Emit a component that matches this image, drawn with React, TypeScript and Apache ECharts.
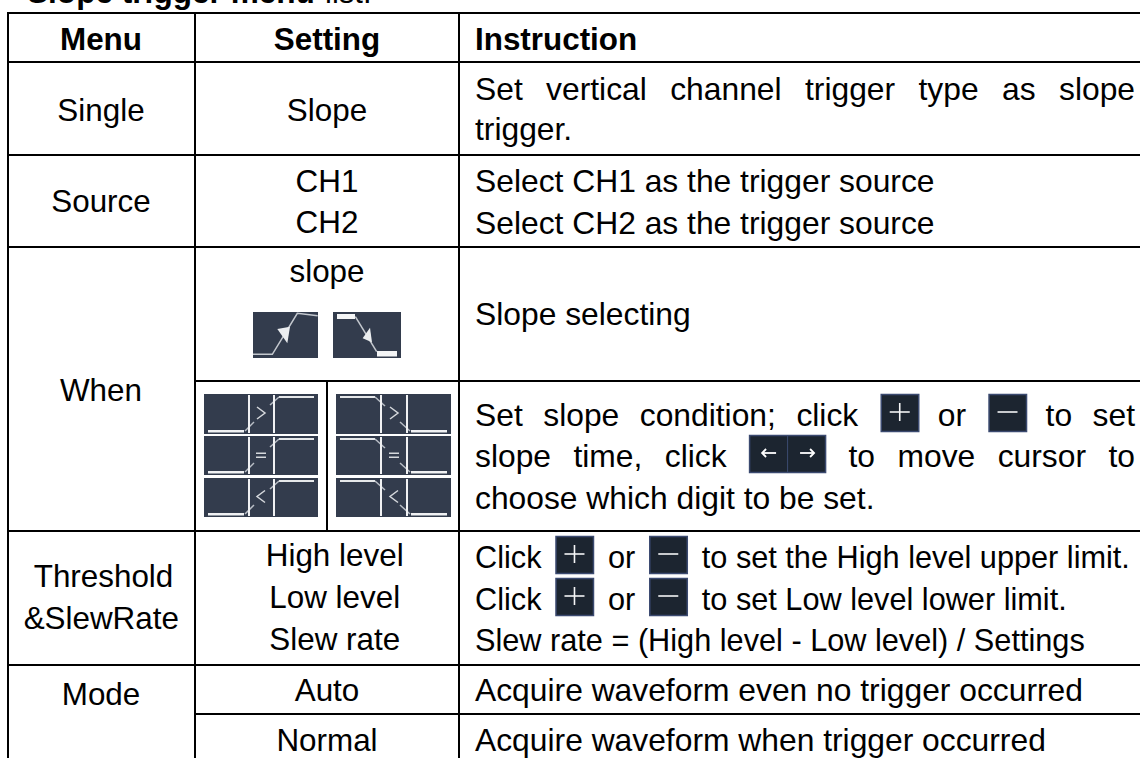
import React, { useEffect, useRef } from "react";
import * as echarts from "echarts";

const titleBold = "Slope trigger menu";
const titleRegular = "list:";
const headers = ["Menu", "Setting", "Instruction"];
const menuCells = ["Single", "Source", "When", "Threshold", "&SlewRate", "Mode"];
const settingCells = ["Slope", "CH1", "CH2", "slope", "High level", "Low level", "Slew rate", "Auto", "Normal"];
const singleLine1 = ["Set", "vertical", "channel", "trigger", "type", "as", "slope"];
const singleLine2 = "trigger.";
const sourceLines = ["Select CH1 as the trigger source", "Select CH2 as the trigger source"];
const slopeText = "Slope selecting";
const condLine1 = ["Set", "slope", "condition;", "click", "#plus", "or", "#minus", "to", "set"];
const condLine2 = ["slope", "time,", "click", "#arrows", "to", "move", "cursor", "to"];
const condLine3 = "choose which digit to be set.";
const highLine = ["Click", "#plus", "or", "#minus", "to set the High level upper limit."];
const lowLine = ["Click", "#plus", "or", "#minus", "to set Low level lower limit."];
const slewLine = "Slew rate = (High level - Low level) / Settings";
const modeLines = ["Acquire waveform even no trigger occurred", "Acquire waveform when trigger occurred"];
const conditionSymbols = [">", "=", "<"];

const FONT = "Liberation Sans";
const SIZE_CELL = 31.4;
const SIZE_BODY = 31.8;
const SIZE_TIGHT = 30.7;
const W = 1140;
const H = 758;
const COL = [8, 195, 459];
const TEXT_X = 475;
const RIGHT = 1135;
const ICON = "#333c4d";
const BTN = "#1c2530";
const BTN_EDGE = "#3b4a70";
const LINE = "#d5d8dc";

const ctx = document.createElement("canvas").getContext("2d")!;
function measure(s: string, size: number) {
  ctx.font = `${size}px "${FONT}"`;
  return ctx.measureText(s).width;
}
const tokenWidth = (t: string, size: number) =>
  t === "#plus" || t === "#minus" ? 38.5 : t === "#arrows" ? 77 : measure(t, size);

function text(s: string, x: number, baseline: number, size: number, align = "left", bold = false) {
  return {
    type: "text",
    silent: true,
    style: {
      x,
      y: baseline - size * 0.339,
      text: s,
      fill: "#000",
      align,
      verticalAlign: "middle",
      font: `${bold ? "bold " : ""}${size}px "${FONT}"`,
    },
  };
}
const rect = (x: number, y: number, width: number, height: number, fill: string, stroke?: string, lineWidth = 0) => ({
  type: "rect",
  silent: true,
  shape: { x, y, width, height },
  style: { fill, stroke, lineWidth },
});
const seg = (pts: number[][], stroke = LINE, lineWidth = 1.5) => ({
  type: "polyline",
  silent: true,
  shape: { points: pts },
  style: { stroke, lineWidth, fill: "none" },
});
const tri = (pts: number[][], fill = "#eceef0") => ({
  type: "polygon",
  silent: true,
  shape: { points: pts },
  style: { fill },
});

function button(kind: string, x: number, y: number, h = 38) {
  const out: any[] = [];
  if (kind === "#arrows") {
    out.push(rect(x + 0.5, y + 0.5, 76, h - 1, BTN, BTN_EDGE, 1.5));
    out.push(seg([[x + 38.5, y], [x + 38.5, y + h]], BTN_EDGE, 1));
    const cy = y + h / 2 - 1;
    out.push(seg([[x + 13, cy], [x + 27, cy]], "#fff", 1.8));
    out.push(seg([[x + 17, cy - 4], [x + 13, cy], [x + 17, cy + 4]], "#fff", 1.8));
    out.push(seg([[x + 51, cy], [x + 65, cy]], "#fff", 1.8));
    out.push(seg([[x + 61, cy - 4], [x + 65, cy], [x + 61, cy + 4]], "#fff", 1.8));
    return out;
  }
  out.push(rect(x + 0.5, y + 0.5, 37.5, h - 1, BTN, BTN_EDGE, 1.5));
  const cx = x + 19;
  const cy = y + h / 2 - 1;
  out.push(seg([[cx - 10, cy], [cx + 10, cy]], "#f4f5f6", 1.6));
  if (kind === "#plus") out.push(seg([[cx, cy - 9], [cx, cy + 9]], "#f4f5f6", 1.6));
  return out;
}

function flow(tokens: string[], baseline: number, gap: number, size: number, buttonDx = 0) {
  const out: any[] = [];
  let x = TEXT_X;
  tokens.forEach((t) => {
    if (t.startsWith("#")) out.push(...button(t, x + buttonDx, baseline - 32));
    else out.push(text(t, x, baseline, size));
    x += tokenWidth(t, size) + gap;
  });
  return out;
}
function justified(tokens: string[], baseline: number, size: number, buttonDx = 0) {
  const total = tokens.reduce((a, t) => a + tokenWidth(t, size), 0);
  return flow(tokens, baseline, (RIGHT - TEXT_X - total) / (tokens.length - 1), size, buttonDx);
}

function conditionIcon(x: number, y: number, h: number, symbol: string, rising: boolean) {
  const w = rising ? 114 : 115;
  const o: any[] = [rect(x, y, w, h, ICON)];
  const bot = h - 3;
  const P = (a: number, b: number) => [x + a, y + b];
  const hi = 2;
  if (rising) {
    o.push(rect(x + 4, y + bot - 1, 36, 2.5, "#f0f1f3"));
    o.push(rect(x + 75, y + hi, 35, 2, "#e6e8ea"));
    o.push(seg([P(41, bot), P(50, bot - 9)], "#b9bec6", 1.5));
    o.push(seg([P(66, 11), P(75, 3)], "#b9bec6", 1.5));
    o.push(rect(x + 44, y + 1, 2, h - 2, "#f0f1f3"));
    o.push(rect(x + 69, y + 1, 2, h - 2, "#f0f1f3"));
  } else {
    o.push(rect(x + 4, y + hi, 35, 2, "#e6e8ea"));
    o.push(rect(x + 75, y + bot - 1, 36, 2.5, "#f0f1f3"));
    o.push(seg([P(39, 3), P(49, 12)], "#b9bec6", 1.5));
    o.push(seg([P(64, bot - 9), P(74, bot)], "#b9bec6", 1.5));
    o.push(rect(x + 44, y + 1, 2, h - 2, "#f0f1f3"));
    o.push(rect(x + 70, y + 1, 2, h - 2, "#f0f1f3"));
  }
  const cx = rising ? 57 : 58;
  const cy = h / 2 - 1;
  if (symbol === ">") o.push(seg([P(cx - 4, cy - 6), P(cx + 4, cy), P(cx - 4, cy + 6)], "#d5d8dc", 1.5));
  if (symbol === "<") o.push(seg([P(cx + 4, cy - 6), P(cx - 4, cy), P(cx + 4, cy + 6)], "#d5d8dc", 1.5));
  if (symbol === "=") o.push(rect(x + cx - 5, y + cy - 2, 10, 1.5, "#d5d8dc"), rect(x + cx - 5, y + cy + 2, 10, 1.5, "#d5d8dc"));
  return o;
}

function buildElements() {
  const el: any[] = [];
  el.push(rect(0, 0, W, H, "#fff"));

  // title, clipped by the top edge of the page as in the reference
  el.push(text(titleBold, 27, 3, 31.6, "left", true));
  el.push(text(titleRegular, 325, 3, 31));

  // rules
  const hRule = (x: number, y: number) => el.push(rect(x, y - 1, W - x, 2, "#000"));
  const vRule = (x: number, y0: number, y1: number) => el.push(rect(x - 1, y0, 2, y1 - y0, "#000"));
  [13, 62, 155, 247, 531, 665].forEach((y) => hRule(COL[0] - 1, y));
  [381, 714].forEach((y) => hRule(COL[1] - 1, y));
  COL.forEach((x) => vRule(x, 12, H));
  vRule(327, 381, 531);

  // header
  el.push(text(headers[0], 101, 50, SIZE_CELL, "center", true));
  el.push(text(headers[1], 327, 50, SIZE_CELL, "center", true));
  el.push(text(headers[2], TEXT_X, 50, SIZE_CELL, "left", true));

  // first column
  const menuBase = [121, 212, 401, 587, 629, 705];
  const menuCx = [101, 101, 101, 103.5, 101.3, 101];
  menuCells.forEach((m, i) => el.push(text(m, menuCx[i], menuBase[i], SIZE_CELL, "center")));

  // second column
  const setBase = [121, 192, 233, 282, 566, 608, 650, 701, 751];
  const setCx = [327, 327, 327, 327, 334.7, 334.7, 334.7, 327, 327];
  settingCells.forEach((s, i) => el.push(text(s, setCx[i], setBase[i], SIZE_CELL, "center")));

  // third column
  el.push(...justified(singleLine1, 100, SIZE_BODY));
  el.push(text(singleLine2, TEXT_X, 140, SIZE_BODY));
  sourceLines.forEach((s, i) => el.push(text(s, TEXT_X, 192 + i * 41.5, SIZE_BODY)));
  el.push(text(slopeText, TEXT_X, 325, SIZE_BODY));
  el.push(...justified(condLine1, 426, SIZE_BODY, 2));
  el.push(...justified(condLine2, 467, SIZE_BODY));
  el.push(text(condLine3, TEXT_X, 509, SIZE_BODY));
  el.push(...flow(highLine, 568, 14, SIZE_TIGHT));
  el.push(...flow(lowLine, 610, 14, SIZE_TIGHT));
  el.push(text(slewLine, TEXT_X, 651, SIZE_TIGHT));
  modeLines.forEach((s, i) => el.push(text(s, TEXT_X, 701 + i * 50, SIZE_BODY)));

  // slope icons
  const a = (x: number, y: number) => [200 + x / 3, 305 + y / 3];
  el.push(rect(253, 312, 65, 46, ICON));
  el.push(seg([a(159, 148), a(217, 148), a(292, 25), a(353, 32)], "#c4c8ce", 1.5));
  el.push(tri([a(232, 72), a(270, 65), a(262, 115)]));
  el.push(rect(333, 312, 68, 46, ICON));
  el.push(rect(337, 314, 18, 5, "#f4f5f6"));
  el.push(seg([a(466, 35), a(530, 140)], "#c4c8ce", 1.5));
  el.push(tri([a(510, 68), a(488, 100), a(516, 112)]));
  el.push(rect(377, 351, 20, 5.5, "#f4f5f6"));

  // condition icons
  const rows = [
    [394, 40],
    [436, 39],
    [478, 39],
  ];
  rows.forEach(([y, h], i) => {
    el.push(...conditionIcon(204, y, h, conditionSymbols[i], true));
    el.push(...conditionIcon(336, y, h, conditionSymbols[i], false));
  });
  return el;
}

export default function App() {
  const ref = useRef<HTMLDivElement>(null);
  useEffect(() => {
    const chart = echarts.init(ref.current!, undefined, { renderer: "svg" });
    chart.setOption({ animation: false, backgroundColor: "#fff", graphic: { elements: buildElements() } });
    return () => chart.dispose();
  }, []);
  return <div ref={ref} style={{ position: "absolute", left: 0, top: 0, width: W, height: H }} />;
}
